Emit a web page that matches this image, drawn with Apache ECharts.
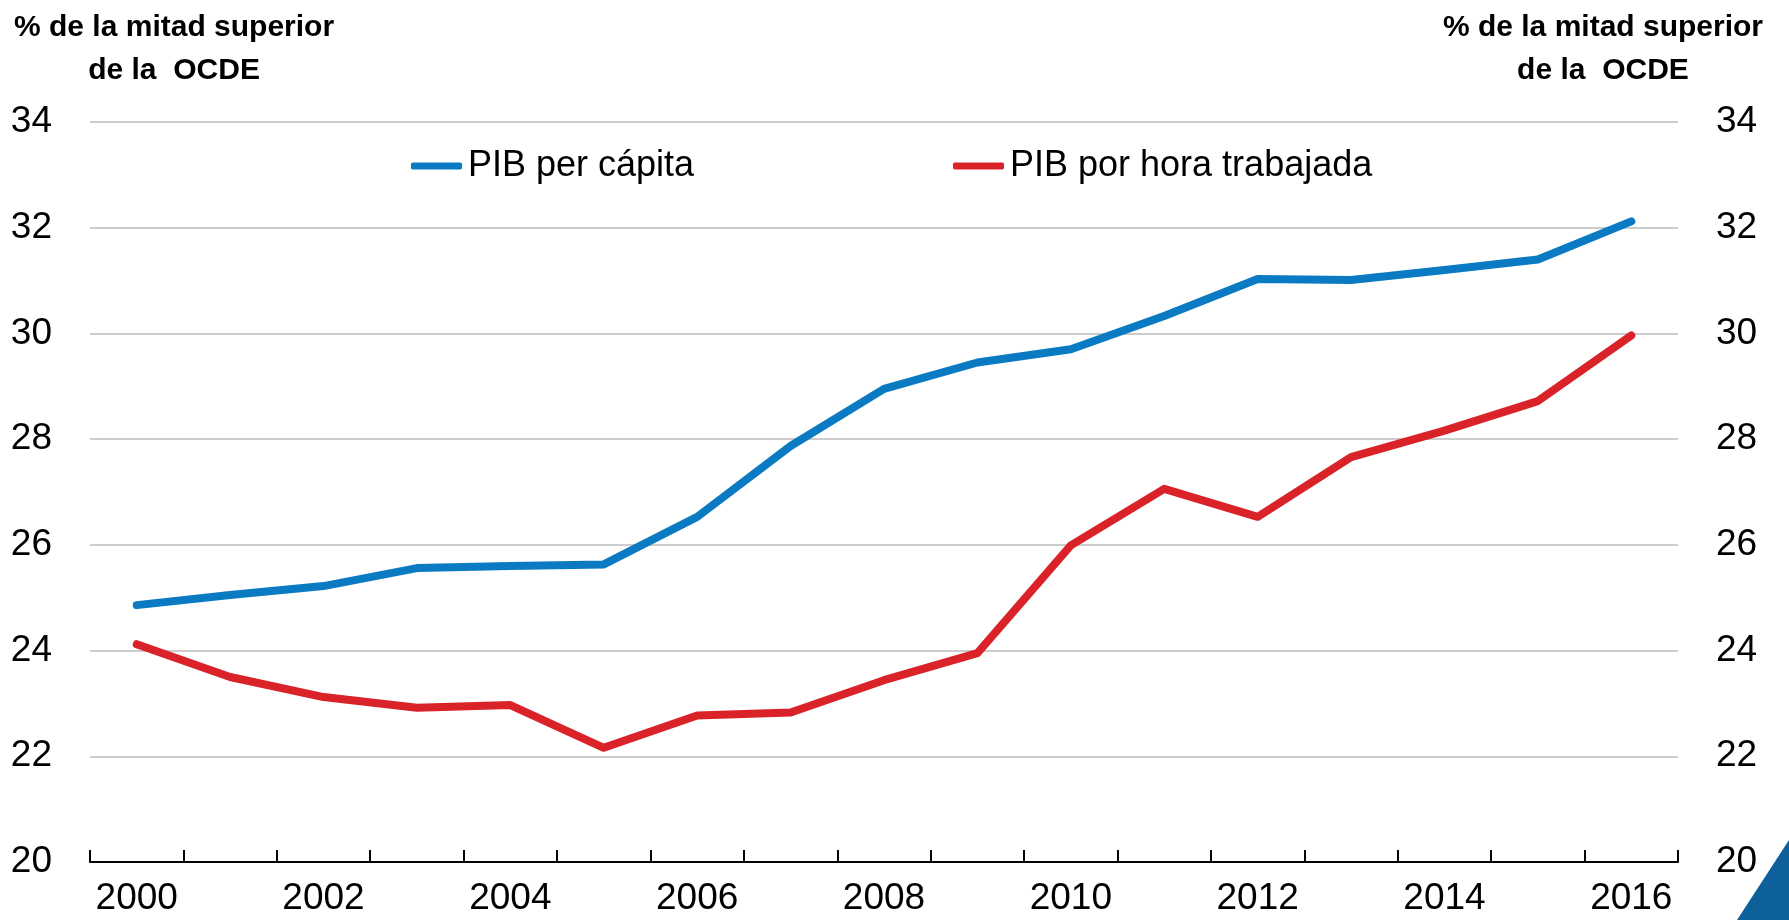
<!DOCTYPE html>
<html>
<head>
<meta charset="utf-8">
<script src="https://cdn.jsdelivr.net/npm/echarts@6/dist/echarts.min.js"></script>
<style>
  html, body { margin: 0; padding: 0; background: #fff; }
  #grafico { width: 1789px; height: 920px; }
</style>
</head>
<body>
<div id="grafico"></div>
<script>
// datos
const anios = ['2000', '2001', '2002', '2003', '2004', '2005', '2006', '2007', '2008',
  '2009', '2010', '2011', '2012', '2013', '2014', '2015', '2016'];
const pibPerCapita = [24.86, 25.05, 25.22, 25.56, 25.6, 25.63, 26.53, 27.87, 28.95,
  29.45, 29.7, 30.33, 31.03, 31.01, 31.2, 31.4, 32.12];
const pibPorHora = [24.12, 23.5, 23.12, 22.92, 22.97, 22.16, 22.77, 22.83, 23.44,
  23.95, 25.99, 27.06, 26.53, 27.66, 28.16, 28.72, 29.96];
const nombres = ['PIB per cápita', 'PIB por hora trabajada'];
const tituloEje = '% de la mitad superior\nde la  OCDE';

const fuente = "'Liberation Sans Narrow', 'Arial Narrow', 'Liberation Sans', sans-serif";
const azul = '#0a7bc2';
const rojo = '#da2229';

const miGrafico = echarts.init(document.getElementById('grafico'));

const ejeY = (lado, conRejilla) => ({
  type: 'value',
  position: lado,
  min: 20,
  max: 34,
  interval: 2,
  axisLine: { show: false },
  axisTick: { show: false },
  axisLabel: {
    margin: 38,
    color: '#000',
    fontFamily: fuente,
    fontSize: 37
  },
  splitLine: {
    show: conRejilla,
    lineStyle: { color: '#cccccc', width: 2 }
  }
});

const leyenda = (nombre, izq) => ({
  data: [nombre],
  left: izq,
  top: 146,
  padding: 0,
  icon: 'roundRect',
  itemWidth: 51,
  itemHeight: 7,
  itemGap: 6,
  textStyle: { color: '#000', fontFamily: fuente, fontSize: 36, lineHeight: 40, padding: [0, 0, 0, 1] }
});

const titulo = (posicion) => Object.assign({
  type: 'text',
  top: 6,
  style: {
    text: tituloEje,
    align: 'center',
    textAlign: 'center',
    fill: '#000',
    font: "bold 30px 'Liberation Sans', Arial, sans-serif",
    lineHeight: 43
  }
}, posicion);

const opciones = {
  animation: false,
  grid: { left: 90, right: 111, top: 122, bottom: 58 },
  legend: [leyenda(nombres[0], 411), leyenda(nombres[1], 953)],
  xAxis: {
    type: 'category',
    data: anios,
    boundaryGap: true,
    axisLine: { lineStyle: { color: '#000', width: 2 } },
    axisTick: {
      show: true,
      inside: true,
      length: 12,
      interval: 0,
      lineStyle: { color: '#000', width: 2 }
    },
    axisLabel: {
      interval: 1,
      margin: 18,
      color: '#000',
      fontFamily: fuente,
      fontSize: 37
    },
    splitLine: { show: false }
  },
  yAxis: [ejeY('left', true), ejeY('right', false)],
  series: [
    {
      name: nombres[0],
      type: 'line',
      data: pibPerCapita,
      symbol: 'none',
      color: azul,
      lineStyle: { color: azul, width: 8, cap: 'round', join: 'round' }
    },
    {
      name: nombres[1],
      type: 'line',
      data: pibPorHora,
      symbol: 'none',
      color: rojo,
      lineStyle: { color: rojo, width: 8, cap: 'round', join: 'round' }
    }
  ],
  graphic: [
    titulo({ left: 14 }),
    titulo({ right: 26 }),
    {
      type: 'polygon',
      shape: { points: [[1737, 920], [1789, 840], [1789, 920]] },
      style: { fill: '#0d6099' }
    }
  ]
};

miGrafico.setOption(opciones);
</script>
</body>
</html>
